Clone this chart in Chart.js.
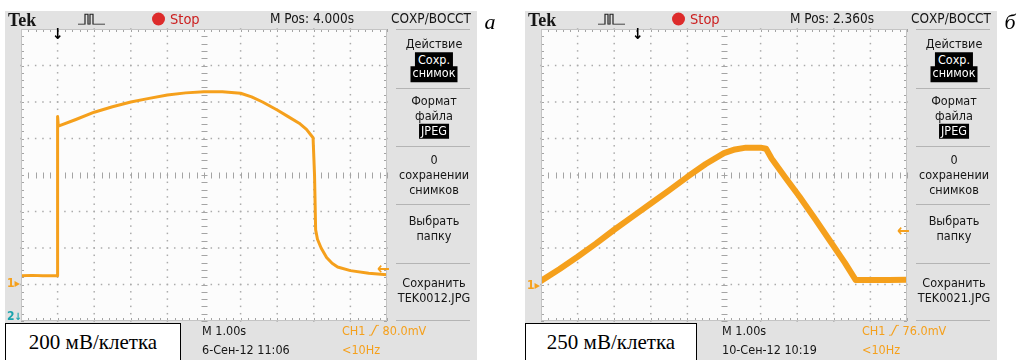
<!DOCTYPE html>
<html><head><meta charset="utf-8">
<script src="https://cdn.jsdelivr.net/npm/chart.js@4.4.0/dist/chart.umd.min.js"></script>
<style>
html,body{margin:0;padding:0;}
body{width:1020px;height:360px;background:#fff;position:relative;overflow:hidden;
 font-family:"Liberation Sans Narrow","DejaVu Sans Condensed","Roboto Condensed",sans-serif;}
.panel{position:absolute;top:11px;height:349px;background:#e2e2e2;}
.t{position:absolute;white-space:nowrap;font-size:12.5px;color:#151515;line-height:1;transform:translateY(-50%);}
.c{transform:translate(-50%,-50%);}
.sep{position:absolute;height:1px;background:#b4b4b4;}
.box{position:absolute;background:#fff;border:1px solid #000;box-sizing:border-box;
 font-family:"Liberation Serif","DejaVu Serif",serif;font-size:21px;color:#000;
 display:flex;align-items:center;justify-content:center;}
.cv{position:absolute;}
</style>
</head><body>
<script>
// ---------- data (x in divisions 0..10, y in divisions 0..8) ----------
const leftTraceX  = [0, 0.3, 0.6, 0.99, 1.0, 1.0, 1.02, 1.5, 2.0, 2.5, 3.0, 3.5, 4.0, 4.5, 5.0, 5.5, 6.0, 6.3, 6.6, 7.0, 7.3, 7.6, 7.8, 7.98, 8.02, 8.05, 8.1, 8.2, 8.35, 8.5, 8.65, 9.0, 9.5, 10.0];
const leftTraceY  = [1.24, 1.25, 1.24, 1.24, 1.24, 5.6, 5.34, 5.52, 5.72, 5.87, 6.0, 6.1, 6.19, 6.25, 6.28, 6.28, 6.24, 6.14, 6.0, 5.78, 5.6, 5.42, 5.25, 5.02, 4.0, 2.5, 2.24, 2.0, 1.74, 1.58, 1.48, 1.38, 1.31, 1.27];
const rightTraceX = [0, 0.5, 1.0, 1.5, 2.0, 2.5, 3.0, 3.5, 4.0, 4.5, 5.0, 5.3, 5.6, 6.0, 6.15, 6.3, 6.7, 7.06, 7.5, 7.88, 8.3, 8.6, 9.0, 9.5, 10.0];
const rightTraceY = [1.1, 1.42, 1.76, 2.12, 2.5, 2.86, 3.22, 3.58, 3.95, 4.3, 4.6, 4.7, 4.75, 4.75, 4.72, 4.45, 3.9, 3.41, 2.78, 2.22, 1.6, 1.12, 1.12, 1.12, 1.13];

const panelLetters = ["а", "б"];
const mPos        = ["M Pos: 4.000s", "M Pos: 2.360s"];
const scaleLabels = ["200 мВ/клетка", "250 мВ/клетка"];
const timebase    = ["M 1.00s", "M 1.00s"];
const dates       = ["6-Сен-12 11:06", "10-Сен-12 10:19"];
const trigLevels  = ["80.0mV", "76.0mV"];
const fileNames   = ["TEK0012.JPG", "TEK0021.JPG"];
const menuTitle   = "СОХР/ВОССТ";
const menuItems   = ["Действие", "Формат", "файла", "0", "сохранении", "снимков", "Выбрать", "папку", "Сохранить"];
const trigArrowDiv = [1.0, 2.64];   // trigger position marker (divisions)
const groundRef    = [1.04, 0.98];  // CH1 ground marker (divisions)
const levelRef     = [1.45, 2.48];  // trigger level marker (divisions)

const ORANGE = "#f5a01c";
const GW = 366, GH = 292, GL = 21, GT = 29;

function el(cls, x, y, html, extra){
  const d = document.createElement("div");
  d.className = cls; d.style.left = x + "px"; d.style.top = y + "px";
  if (html !== undefined) d.innerHTML = html;
  if (extra) Object.assign(d.style, extra);
  document.body.appendChild(d); return d;
}

// graticule: dotted divisions, minor ticks on centre lines and edges
const scopeGraticule = {
  id: "scopeGraticule",
  beforeDatasetsDraw(chart){
    const {ctx, chartArea:a, scales:{x, y}} = chart;
    ctx.save();
    ctx.fillStyle = "#ababab";
    for (let gx = 1; gx <= 9; gx++){
      if (gx === 5) continue;
      const px = x.getPixelForValue(gx);
      for (let j = 0; j <= 40; j++){ const py = y.getPixelForValue(j/5); ctx.fillRect(px-0.75, py-0.75, 1.5, 1.5); }
    }
    for (let gy = 1; gy <= 7; gy++){
      if (gy === 4) continue;
      const py = y.getPixelForValue(gy);
      for (let i = 0; i <= 50; i++){ const px = x.getPixelForValue(i/5); ctx.fillRect(px-0.75, py-0.75, 1.5, 1.5); }
    }
    ctx.strokeStyle = "#a4a4a4"; ctx.lineWidth = 1;
    const cx = Math.round(x.getPixelForValue(5)) + 0.5, cy = Math.round(y.getPixelForValue(4)) + 0.5;
    ctx.beginPath();
    for (let i = 0; i <= 50; i++){
      const px = Math.round(x.getPixelForValue(i/5)) + 0.5;
      ctx.moveTo(px, cy-3); ctx.lineTo(px, cy+3);
      ctx.moveTo(px, a.top); ctx.lineTo(px, a.top+3);
      ctx.moveTo(px, a.bottom); ctx.lineTo(px, a.bottom-3);
    }
    for (let j = 0; j <= 40; j++){
      const py = Math.round(y.getPixelForValue(j/5)) + 0.5;
      ctx.moveTo(cx-3, py); ctx.lineTo(cx+3, py);
      ctx.moveTo(a.left, py); ctx.lineTo(a.left+3, py);
      ctx.moveTo(a.right, py); ctx.lineTo(a.right-3, py);
    }
    ctx.stroke(); ctx.restore();
  }
};

function buildPanel(i, off, xs, ys, lw){
  el("panel", off + 5, 11, "", {width: "472px"});
  el("cv", off + GL, GT, "", {width: GW + "px", height: GH + "px", background: "#fcfcfc"});
  const pad = 8;
  const wrap = el("cv", off + GL - pad, GT - pad, "", {width: (GW + 2*pad) + "px", height: (GH + 2*pad) + "px"});
  const cv = document.createElement("canvas"); wrap.appendChild(cv);
  new Chart(cv, {
    type: "scatter",
    data: { datasets: [{ data: xs.map((v, k) => ({x: v, y: ys[k]})), showLine: true,
      borderColor: ORANGE, backgroundColor: ORANGE, borderWidth: lw, pointRadius: 0, tension: 0,
      borderJoinStyle: "round", borderCapStyle: "round" }] },
    options: {
      responsive: true, maintainAspectRatio: false, animation: false,
      layout: { padding: pad },
      plugins: { legend: {display: false}, tooltip: {enabled: false} },
      scales: {
        x: { type: "linear", min: 0, max: 10, ticks: {display: false, stepSize: 1},
             grid: {display: false, drawTicks: false}, border: {display: false} },
        y: { type: "linear", min: 0, max: 8, ticks: {display: false, stepSize: 1},
             grid: {display: false, drawTicks: false}, border: {display: false} }
      }
    },
    plugins: [scopeGraticule]
  });
  const dx = v => off + GL + v * GW / 10, dy = v => GT + GH - v * GH / 8;

  el("cv", off + GL, GT, "", {width: GW + "px", height: GH + "px", border: "1px solid #c4c4c4", boxSizing: "border-box", pointerEvents: "none"});

  // top bar
  el("t", off + 8, 20, "Tek", {fontFamily: '"Liberation Serif","DejaVu Serif",serif', fontWeight: "bold", fontSize: "18px"});
  el("t", off + 78, 20, '<svg width="28" height="12" viewBox="0 0 28 12"><path d="M0 11.5H7V1.5H10V11.5H12V1.5H15V11.5H27" fill="none" stroke="#222" stroke-width="1.2"/></svg>');
  el("t", off + 152, 19, "", {width: "13px", height: "13px", borderRadius: "50%", background: "#dd2b2b"});
  el("t", off + 170, 19, "Stop", {color: "#cc2020", fontSize: "14.5px"});
  el("t", off + 270, 19, mPos[i], {fontSize: "13.5px"});
  el("t c", off + 431, 19, menuTitle, {fontSize: "13.5px"});
  el("t c", off + 490, 22, panelLetters[i], {fontFamily: '"Liberation Serif","DejaVu Serif",serif', fontStyle: "italic", fontSize: "22px", color: "#000"});

  // right menu
  const mx = off + 434;
  [29, 88, 146, 204, 263, 320].forEach(y => el("sep", off + 396, y, "", {width: "74px"}));
  el("t c", mx, 44, menuItems[0]);
  el("t c", mx, 60, "Сохр.", {background: "#000", color: "#fff", padding: "2px 3px 1px"});
  el("t c", mx, 74, "снимок", {background: "#000", color: "#fff", padding: "1px 2px 2px"});
  el("t c", mx, 101, menuItems[1]);
  el("t c", mx, 116, menuItems[2]);
  el("t c", mx, 131, "JPEG", {background: "#000", color: "#fff", padding: "1px 2px"});
  el("t c", mx, 160, menuItems[3]);
  el("t c", mx, 175, menuItems[4]);
  el("t c", mx, 190, menuItems[5]);
  el("t c", mx, 221, menuItems[6]);
  el("t c", mx, 236, menuItems[7]);
  el("t c", mx, 283, menuItems[8]);
  el("t c", mx, 298, fileNames[i]);

  // markers
  el("t c", dx(trigArrowDiv[i]), GT + 5, "&#x2193;", {fontWeight: "bold", fontSize: "15px", color: "#000"});
  el("t", off + 7, dy(groundRef[i]), "1&#x25B8;", {color: ORANGE, fontSize: "12px", fontWeight: "bold"});
  el("t", off + GL + GW - 10, dy(levelRef[i]), "&#x2190;", {color: ORANGE, fontSize: "17px", fontWeight: "bold"});
  if (i === 0) el("t", off + 7, GT + GH - 5, "2<span style='font-size:10px'>&#x2193;</span>", {color: "#1aa3ad", fontSize: "12px", fontWeight: "bold"});

  // bottom bar
  el("box", off + 5, 323, scaleLabels[i], {width: (i === 0 ? 176 : 172) + "px", height: "38px"});
  el("t", off + 202, 331, timebase[i]);
  el("t", off + 202, 350, dates[i]);
  el("t", off + 342, 331, 'CH1 <svg width="10" height="11" viewBox="0 0 10 11" style="vertical-align:-1px"><path d="M0 10.5H2.5L7.5 0.5H10" fill="none" stroke="' + ORANGE + '" stroke-width="1.2"/></svg> ' + trigLevels[i], {color: ORANGE});
  el("t", off + 342, 350, "&lt;10Hz", {color: ORANGE});
}

buildPanel(0, 0, leftTraceX, leftTraceY, 3);
buildPanel(1, 520, rightTraceX, rightTraceY, 6);
</script>
</body></html>
